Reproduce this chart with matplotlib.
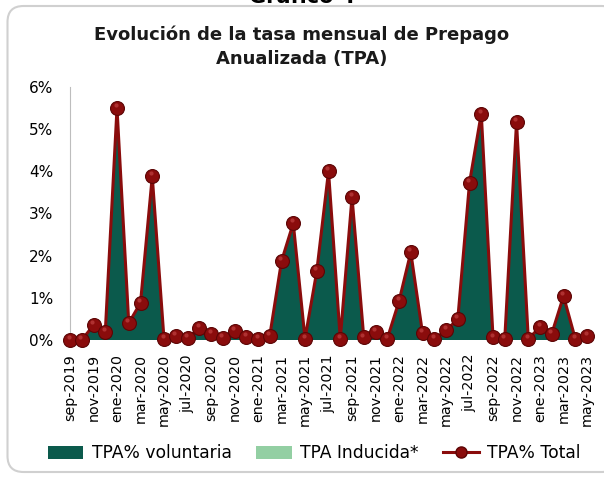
import numpy as np
import matplotlib
matplotlib.use("Agg")
import matplotlib.pyplot as plt
from matplotlib.patches import FancyBboxPatch, Patch
from matplotlib.lines import Line2D
from matplotlib.ticker import FuncFormatter

# monthly data, sep-2019 .. may-2023
months = ["sep", "oct", "nov", "dic",
          "ene", "feb", "mar", "abr", "may", "jun", "jul", "ago", "sep", "oct", "nov", "dic",
          "ene", "feb", "mar", "abr", "may", "jun", "jul", "ago", "sep", "oct", "nov", "dic",
          "ene", "feb", "mar", "abr", "may", "jun", "jul", "ago", "sep", "oct", "nov", "dic",
          "ene", "feb", "mar", "abr", "may"]
years = [2019] * 4 + [2020] * 12 + [2021] * 12 + [2022] * 12 + [2023] * 5
labels = ["%s-%d" % (m, y) for m, y in zip(months, years)]

tpa_total = [0.00, 0.00, 0.35, 0.18,
             5.50, 0.40, 0.88, 3.88, 0.02, 0.10, 0.04, 0.28, 0.15, 0.05, 0.21, 0.08,
             0.02, 0.10, 1.87, 2.77, 0.03, 1.63, 4.00, 0.03, 3.39, 0.06, 0.20, 0.03,
             0.92, 2.08, 0.16, 0.02, 0.23, 0.49, 3.73, 5.37, 0.06, 0.03, 5.17, 0.03,
             0.30, 0.15, 1.04, 0.03, 0.10]
tpa_voluntaria = list(tpa_total)
tpa_inducida = [0.0] * len(tpa_total)

teal = "#0b5a4c"
light_green = "#93cfa3"
red = "#8a0c0c"

fig = plt.figure(figsize=(6.04, 4.78), dpi=100)

# rounded frame around the chart
frame = FancyBboxPatch((0.075, 0.06), 6.1, 4.66,
                       boxstyle="round,pad=0,rounding_size=0.16",
                       transform=fig.dpi_scale_trans,
                       facecolor="white", edgecolor="#d0d0d0", linewidth=1.5,
                       zorder=-5)
fig.patches.append(frame)

# heading of the page, mostly cut off at the top like in the source
fig.text(0.5, 1.007, "Gráfico 4", ha="center", va="center",
         fontsize=15, fontweight="bold")
fig.text(0.5, 0.902, "Evolución de la tasa mensual de Prepago\nAnualizada (TPA)",
         ha="center", va="center", fontsize=13, fontweight="bold",
         linespacing=1.4, color="#1a1a1a")

ax = fig.add_axes([0.1159, 0.2887, 0.856, 0.5293])
ax.set_zorder(2)
ax.patch.set_alpha(0)
x = np.arange(len(tpa_total))
v = np.array(tpa_voluntaria) / 100
ind = np.array(tpa_inducida) / 100
t = np.array(tpa_total) / 100

ax.stackplot(x, v, ind, colors=[teal, light_green], linewidth=0)
ax.plot(x, t, color=red, linewidth=2.2, marker="o", markersize=10,
        markerfacecolor=red, markeredgecolor="#5c0505", markeredgewidth=0.8,
        zorder=3, clip_on=False)
# small highlight for the 3d look
ax.plot(x - 0.12, t + 0.0007, linestyle="none", marker="o", markersize=3,
        markerfacecolor="#c84a4a", markeredgewidth=0, alpha=0.6, zorder=4,
        clip_on=False)

ax.set_xlim(0, len(tpa_total) - 1)
ax.set_ylim(0, 0.06)
ax.set_yticks(np.arange(0, 0.061, 0.01))
ax.yaxis.set_major_formatter(FuncFormatter(lambda y, _: "%d%%" % round(y * 100)))
ax.set_xticks(x[::2])
ax.set_xticklabels(labels[::2], rotation=90, fontsize=10.3)
ax.tick_params(axis="y", labelsize=11, length=0, pad=12)
ax.tick_params(axis="x", length=0, pad=10)
for side in ["top", "right", "bottom"]:
    ax.spines[side].set_visible(False)
ax.spines["left"].set_color("#bdbdbd")

handles = [Patch(facecolor=teal, edgecolor="none"),
           Patch(facecolor=light_green, edgecolor="none"),
           Line2D([0], [0], color=red, linewidth=2.2, marker="o", markersize=8,
                  markerfacecolor=red, markeredgecolor="#5c0505")]
fig.legend(handles, ["TPA% voluntaria", "TPA Inducida*", "TPA% Total"],
           loc="center", bbox_to_anchor=(0.52, 0.052), ncol=3, frameon=False,
           fontsize=12.3, handlelength=2.1, handleheight=0.8, columnspacing=1.4,
           handletextpad=0.5)

fig.savefig("out.png", dpi=100)
